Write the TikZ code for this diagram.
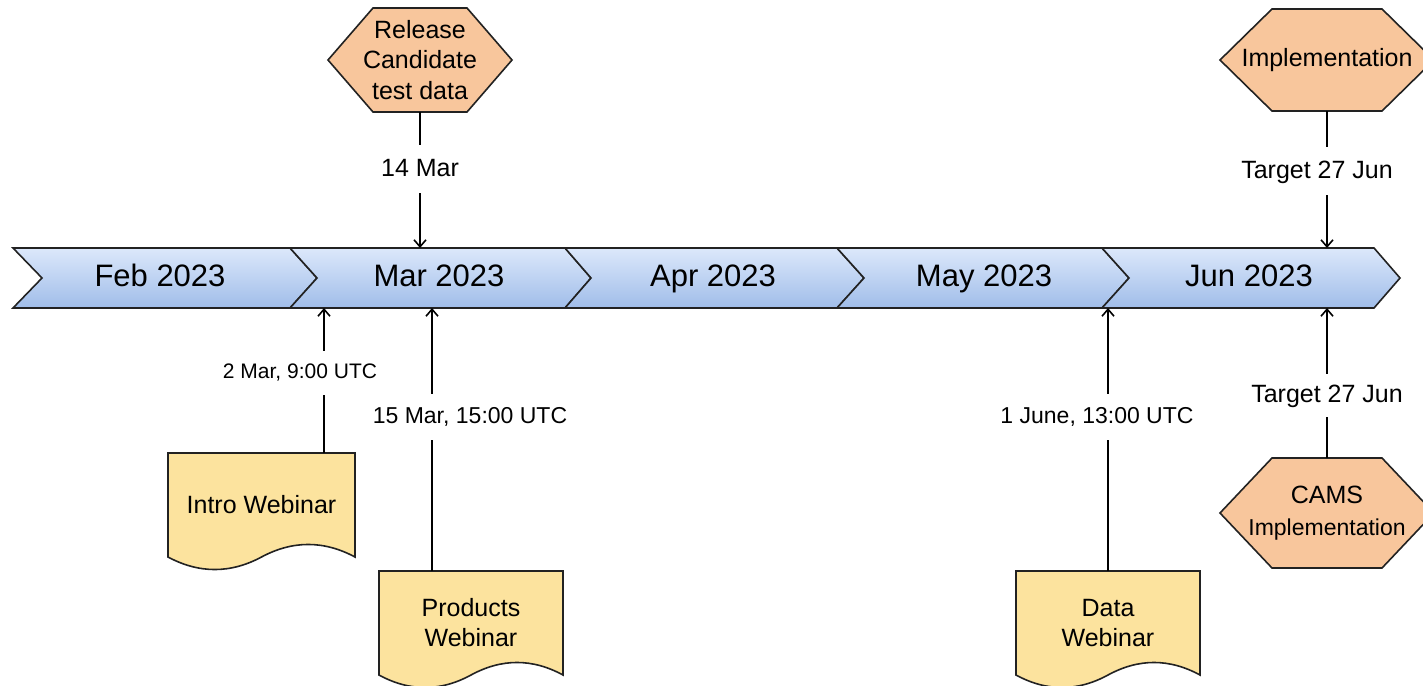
\documentclass[tikz,border=0pt]{standalone}
\usepackage{fontspec}
\setmainfont{Liberation Sans}
\usetikzlibrary{arrows.meta,calc,backgrounds}
\definecolor{chevtop}{HTML}{DCE8FB}
\definecolor{chevbot}{HTML}{A0BDE9}
\definecolor{hexfillc}{HTML}{F8C69C}
\definecolor{docfillc}{HTML}{FCE39E}
\definecolor{edgec}{HTML}{222222}
\newcommand\hexshape[2]{%
  \begin{pgfonlayer}{background}
  \path[hexstyle] (#1.west) -- ($(#1.north west)+(#2,0)$) -- ($(#1.north east)+(-#2,0)$)
     -- (#1.east) -- ($(#1.south east)+(-#2,0)$) -- ($(#1.south west)+(#2,0)$) -- cycle;
  \end{pgfonlayer}}
\newcommand\docshape[1]{%
  \begin{pgfonlayer}{background}
  \path[docstyle] (#1.north west) -- (#1.north east) -- (#1.south east)
     .. controls ($(#1.south east)!1/6!(#1.south west)+(0,-16.7)$) and ($(#1.south east)!1/3!(#1.south west)+(0,-16.7)$) .. (#1.south)
     .. controls ($(#1.south)!1/3!(#1.south west)+(0,16.7)$) and ($(#1.south)!2/3!(#1.south west)+(0,16.7)$) .. (#1.south west)
     -- cycle;
  \end{pgfonlayer}}
\begin{document}
\begin{tikzpicture}[x=1pt,y=-1pt,
  every node/.style={inner sep=0pt, outer sep=0pt},
  shapeline/.style={draw=edgec, line width=1.6pt, line join=miter},
  chev/.style={shapeline, top color=chevtop, bottom color=chevbot},
  hexstyle/.style={shapeline, fill=hexfillc},
  docstyle/.style={shapeline, fill=docfillc},
  hexbox/.style={align=center, font=\fontsize{25}{30.5}\selectfont},
  docbox/.style={align=center, minimum height=104pt, font=\fontsize{25}{30}\selectfont},
  mon/.style={font=\fontsize{31}{36}\selectfont, text height=24.2pt, text depth=6.8pt},
  lbl/.style={fill=white, inner xsep=2pt, inner ysep=11.5pt},
  lblA/.style={lbl, font=\fontsize{25}{30}\selectfont, text height=19.5pt, text depth=5.5pt},
  lblB/.style={lbl, font=\fontsize{23}{28}\selectfont, text height=17.9pt, text depth=5.1pt},
  lblC/.style={lbl, font=\fontsize{21}{25}\selectfont, text height=16.4pt, text depth=4.6pt},
  conn/.style={draw=black, line width=1.6pt, -{Straight Barb[length=7pt,width=12pt]}}
]
\useasboundingbox (0,0) rectangle (1423,685);
\begin{pgfonlayer}{background}
\fill[white] (0,0) rectangle (1423,685);
\end{pgfonlayer}

% timeline chevrons
\path[chev] (13,248) -- (290,248) -- (317,278) -- (290,308) -- (13,308) -- (42,278) -- cycle;
\path[chev] (290,248) -- (565,248) -- (591,278) -- (565,308) -- (290,308) -- (317,278) -- cycle;
\path[chev] (565,248) -- (837,248) -- (864,278) -- (837,308) -- (565,308) -- (591,278) -- cycle;
\path[chev] (837,248) -- (1102,248) -- (1129,278) -- (1102,308) -- (837,308) -- (864,278) -- cycle;
\path[chev] (1102,248) -- (1374,248) -- (1400,278) -- (1374,308) -- (1102,308) -- (1129,278) -- cycle;

\node[mon] (feb) at (160,278) {Feb 2023};
\node[mon] (mar) at (439,278) {Mar 2023};
\node[mon] (apr) at (713,278) {Apr 2023};
\node[mon] (may) at (984,278) {May 2023};
\node[mon] (jun) at (1249,278) {Jun 2023};

\coordinate (bt) at (0,248);
\coordinate (bb) at (0,308);
\coordinate (a2) at (324,308);
\coordinate (a15) at (432,308);
\coordinate (a1j) at (1108,308);

% hexagons
\node[hexbox, minimum width=184pt, minimum height=104pt] (rc) at (420,60) {Release\\Candidate\\test data};
\hexshape{rc}{45}
\node[hexbox, minimum width=214pt, minimum height=102pt] (impl) at (1327,60) {Implementation};
\hexshape{impl}{52}
\node[hexbox, minimum width=214pt, minimum height=110pt] (cams) at (1327,513)
  {{\fontsize{25}{30}\selectfont CAMS}\\[2pt]{\fontsize{23}{28}\selectfont Implementation}};
\hexshape{cams}{52}

% documents
\node[docbox, minimum width=187pt] (intro) at (261.5,505) {Intro Webinar};
\docshape{intro}
\node[docbox, minimum width=184pt] (prod) at (471,623) {Products\\Webinar};
\docshape{prod}
\node[docbox, minimum width=184pt] (data) at (1108,623) {Data\\Webinar};
\docshape{data}

% connectors
\draw[conn] (rc.south) -- (rc.south |- bt);
\draw[conn] (impl.south) -- (impl.south |- bt);
\draw[conn] (intro.north -| a2) -- (a2);
\draw[conn] (prod.north -| a15) -- (a15);
\draw[conn] (data.north -| a1j) -- (a1j);
\draw[conn] (cams.north) -- (cams.north |- bb);

% connector labels
\node[lblA] (l14) at (420,169) {14 Mar};
\node[lblA] (lt1) at (1317,171) {Target 27 Jun};
\node[lblC] (l2) at (300,373) {2 Mar, 9:00 UTC};
\node[lblB] (l15) at (470,417) {15 Mar, 15:00 UTC};
\node[lblB] (l1j) at (1097,417) {1 June, 13:00 UTC};
\node[lblA, inner ysep=9pt] (lt2) at (1327,395) {Target 27 Jun};
\end{tikzpicture}
\end{document}
